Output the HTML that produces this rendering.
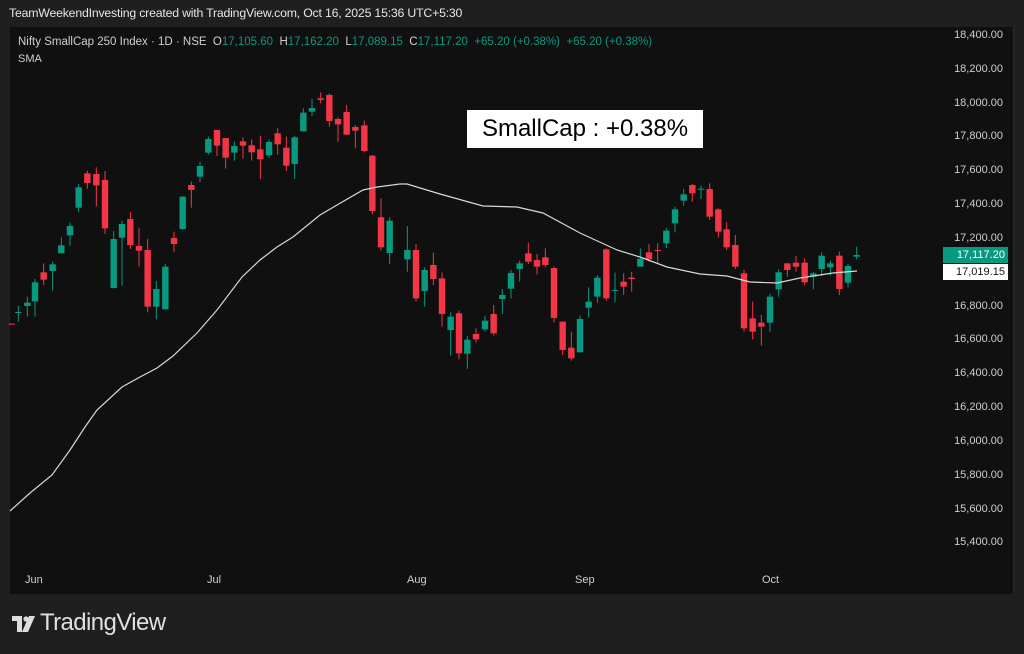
<!DOCTYPE html>
<html><head><meta charset="utf-8"><style>
body{margin:0;width:1024px;height:654px;background:#1f1f1f;font-family:"Liberation Sans",sans-serif;overflow:hidden;position:relative}
.t{position:absolute;white-space:nowrap}
</style></head><body>
<div class="t" style="left:9px;top:6px;font-size:12.3px;color:#e6e6e6;letter-spacing:-0.2px">TeamWeekendInvesting created with TradingView.com, Oct 16, 2025 15:36 UTC+5:30</div>
<svg id="s" width="1024" height="654" style="position:absolute;left:0;top:0">
<rect x="10" y="27" width="1004" height="567" fill="#101010"/>
<rect x="1013" y="27" width="1" height="567" fill="#2a2a2a"/>
<g id="c"></g>
</svg>
<div class="t" style="left:18px;top:36px;font-size:11.5px;color:#d0d0d0">Nifty SmallCap 250 Index · 1D · NSE &nbsp;O<span style="color:#089981">17,105.60</span> &nbsp;H<span style="color:#089981">17,162.20</span> &nbsp;L<span style="color:#089981">17,089.15</span> &nbsp;C<span style="color:#089981">17,117.20</span> &nbsp;<span style="color:#089981">+65.20 (+0.38%) &nbsp;+65.20 (+0.38%)</span></div>
<div class="t" style="left:18px;top:53px;font-size:11px;color:#d0d0d0">SMA</div>
<div class="t" style="left:467px;top:110px;width:236px;height:38px;background:#fff;color:#000;font-size:24px;line-height:38px;text-align:center">SmallCap : +0.38%</div>
<div id="ax"></div>
<div class="t" style="left:943px;top:247px;width:65px;height:16px;background:#089981;color:#fff;font-size:11px;line-height:16px;text-align:right;padding-right:0">17,117.20&nbsp;</div>
<div class="t" style="left:943px;top:264px;width:65px;height:16px;background:#fff;color:#131313;font-size:11px;line-height:16px;text-align:right">17,019.15&nbsp;</div>
<div class="t" style="left:25px;top:574px;font-size:11px;color:#cfcfcf">Jun</div>
<div class="t" style="left:207px;top:574px;font-size:11px;color:#cfcfcf">Jul</div>
<div class="t" style="left:407px;top:574px;font-size:11px;color:#cfcfcf">Aug</div>
<div class="t" style="left:575px;top:574px;font-size:11px;color:#cfcfcf">Sep</div>
<div class="t" style="left:762px;top:574px;font-size:11px;color:#cfcfcf">Oct</div>
<svg width="24" height="16" style="position:absolute;left:12px;top:616px"><path d="M0 0H10V16H5V5H0Z" fill="#ddd"/><circle cx="14" cy="3" r="2.6" fill="#ddd"/><path d="M17 0H23L16 16H10Z" fill="#ddd"/></svg>
<div class="t" style="left:40px;top:609px;font-size:24px;color:#e0e0e0;letter-spacing:-0.6px">TradingView</div>
<script>
var G="#089981",R="#f23645",h="";
var z2=[[35,731,733,731,733,R],[55,696,698,678,725,G],[82,668,678,650,710,G],[105,607,664,597,710,G],[131,577,599,550,615,R],[158,553,573,545,632,G],[184,496,520,472,520,G],[210,438,466,428,497,G],[236,322,383,312,397,G],[262,280,309,272,326,R],[289,282,316,262,379,R],[315,300,445,273,462,R],[341,477,624,453,626,G],[366,432,473,422,617,G],[391,417,495,396,507,R],[417,498,512,443,560,R],[443,510,680,477,697,R],[469,627,680,603,718,G],[496,560,688,552,688,G],[522,474,492,455,516,R],[548,350,447,348,449,G],[574,315,330,305,383,R],[600,258,290,245,306,G],[625,177,218,170,224,G],[651,150,197,150,228,R],[677,174,233,174,266,R],[703,198,218,185,242,G],[729,184,197,172,236,R],[755,196,217,178,242,R],[781,208,238,167,297,R],[807,186,226,178,233,G],[833,160,193,145,224,R],[859,203,257,170,273,R],[884,172,252,167,297,G],[910,98,154,85,154,G],[936,84,95,57,108,G],[962,55,60,37,70,R],[988,45,123,40,140,R],[1014,117,133,112,185,R],[1040,96,164,75,165,R],[1066,141,152,135,205,R],[1093,136,213,122,217,R],[1117,227,393,225,403,R],[1143,412,502,355,512,R],[1169,422,519,412,552,G]];
var z3=[[0,130,160,130,160,R],[22,240,268,168,305,G],[48,240,385,222,395,R],[74,300,363,292,410,G],[100,285,327,248,345,R],[126,325,432,307,470,R],[152,440,480,427,557,G],[177,430,550,422,568,R],[202,509,551,497,597,G],[228,492,508,475,518,R],[255,452,478,437,485,G],[281,432,490,405,497,R],[307,375,387,357,432,G],[333,309,356,300,385,G],[359,280,297,272,335,G],[385,250,275,218,282,R],[411,270,290,252,313,R],[436,262,285,235,292,R],[462,294,444,290,458,R],[488,455,540,455,555,R],[514,533,565,485,572,R],[540,447,547,437,547,G],[566,395,413,352,443,G],[592,323,380,315,398,G],[619,238,385,235,392,R],[645,360,363,308,397,G],[671,335,350,310,375,R],[695,323,327,305,365,R],[721,266,290,235,290,G],[747,247,268,222,275,R],[773,240,243,220,278,R],[799,182,220,175,235,G],[825,118,160,110,187,G],[851,73,92,57,107,G],[877,45,70,42,95,R],[903,56,59,47,87,G],[929,57,140,40,150,R],[955,118,185,115,203,R],[980,178,232,157,240,R],[1006,225,290,195,297,R],[1032,310,475,300,485,R],[1058,445,485,395,508,R],[1084,458,470,435,527,R],[1110,380,458,372,485,G],[1136,307,358,297,380,G],[1162,280,300,280,320,R],[1188,278,290,258,305,R],[1214,278,337,265,345,R],[1240,310,320,305,358,G],[1265,257,297,247,318,G],[1291,280,292,272,317,G],[1318,257,357,245,375,R],[1344,288,338,282,352,G],[1370,255,260,230,268,G]];
function add(a,ox,oy){a.forEach(function(c){var x=ox+c[0]/3,t=oy+c[1]/3,b=oy+c[2]/3,wt=oy+c[3]/3,wb=oy+c[4]/3;
h+='<line x1="'+x+'" x2="'+x+'" y1="'+wt+'" y2="'+wb+'" stroke="'+c[5]+'" stroke-width="1"/>';
h+='<rect x="'+(x-3.2)+'" y="'+t+'" width="6.4" height="'+Math.max(1,b-t)+'" fill="'+c[5]+'"/>';});}
add(z2,0,80);add(z3.slice(1),400,170);
h+='<polyline fill="none" stroke="#d8d8d8" stroke-width="1.2" points="10,511 30,493 52,475 70,450 85,427 97,410 122,387 140,377 157,368 173,356 197,333 217,310 242,277 260,260 277,247 293,237 320,215 337,205 363,190 377,187 400,184 407,184 440,194 483,206 517,207 543,213 580,233 617,250 640,257 667,267 700,274 727,276 750,282 777,283 800,278 833,273 857,271"/>';
document.getElementById('c').innerHTML=h;
var ax="";var labs=["18,400.00","18,200.00","18,000.00","17,800.00","17,600.00","17,400.00","17,200.00","17,000.00","16,800.00","16,600.00","16,400.00","16,200.00","16,000.00","15,800.00","15,600.00","15,400.00"];
labs.forEach(function(l,i){if(i==7)return;var y=36+i*33.83;ax+='<div class="t" style="right:21px;top:'+(y-7)+'px;font-size:11px;color:#cfcfcf">'+l+'</div>';});
document.getElementById('ax').innerHTML=ax;
</script>
</body></html>
